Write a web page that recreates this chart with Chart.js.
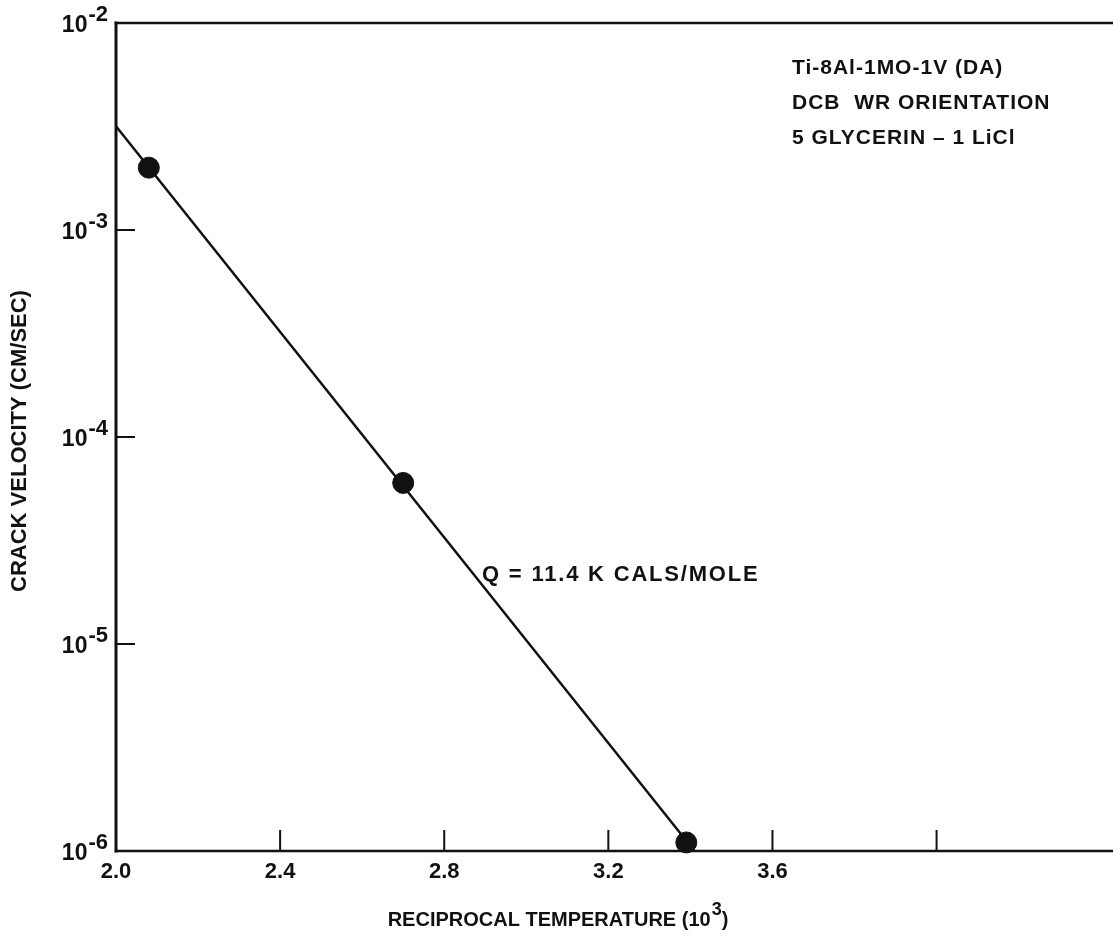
<!DOCTYPE html>
<html>
<head>
  <meta charset="UTF-8">
  <title>Crack velocity vs reciprocal temperature</title>
  <script src="https://cdn.jsdelivr.net/npm/chart.js"></script>
  <style>
    body { margin: 0; background: #fff; overflow: hidden; }
    #wrap { width: 1113px; height: 941px; }
  </style>
</head>
<body>
  <div id="wrap"><canvas id="chart" width="1113" height="941"></canvas></div>

  <script>
    // tick values / labels
    const xTicks = [2.0, 2.4, 2.8, 3.2, 3.6, 4.0];
    const xTickLabels = ["2.0", "2.4", "2.8", "3.2", "3.6", ""];
    const yTicks = [1e-2, 1e-3, 1e-4, 1e-5, 1e-6];
    const yTickExp = ["-2", "-3", "-4", "-5", "-6"];

    // measured points
    const tempX = [2.08, 2.70, 3.39];
    const velocity = [2.0e-3, 6.0e-5, 1.1e-6];

    // fitted line ends
    const fitX = [2.0, 3.41];
    const fitY = [3.17e-3, 1.0e-6];

    const notes = ["Ti-8Al-1MO-1V (DA)", "DCB  WR ORIENTATION", "5 GLYCERIN \u2013 1 LiCl"];
    const qLabel = "Q = 11.4 K CALS/MOLE";

    const FONT = "'Liberation Sans', Arial, sans-serif";
    const INK = "#111";

    function supText(ctx, base, sup, tail, x, y, size, supSize, raise, align) {
      ctx.font = "bold " + size + "px " + FONT;
      const wb = ctx.measureText(base).width;
      const wt = ctx.measureText(tail).width;
      ctx.font = "bold " + supSize + "px " + FONT;
      const ws = ctx.measureText(sup).width;
      const total = wb + ws + 1 + wt;
      let x0 = x;
      if (align === "right") x0 = x - total;
      if (align === "center") x0 = x - total / 2;
      ctx.textAlign = "left";
      ctx.textBaseline = "middle";
      ctx.font = "bold " + size + "px " + FONT;
      ctx.fillText(base, x0, y);
      ctx.font = "bold " + supSize + "px " + FONT;
      ctx.fillText(sup, x0 + wb + 1, y - raise);
      ctx.font = "bold " + size + "px " + FONT;
      ctx.fillText(tail, x0 + wb + ws + 1, y);
    }

    const framePlugin = {
      id: "frame",
      beforeDatasetsDraw(chart) {
        const ctx = chart.ctx;
        const a = chart.chartArea;
        const xs = chart.scales.x;
        const ys = chart.scales.y;
        ctx.save();
        ctx.strokeStyle = INK;
        ctx.lineCap = "square";
        // left axis
        ctx.lineWidth = 3;
        ctx.beginPath();
        ctx.moveTo(a.left, a.top);
        ctx.lineTo(a.left, a.bottom);
        ctx.stroke();
        // top and bottom lines
        ctx.lineWidth = 2.5;
        ctx.beginPath();
        ctx.moveTo(a.left, a.top);
        ctx.lineTo(a.right, a.top);
        ctx.moveTo(a.left, a.bottom);
        ctx.lineTo(a.right, a.bottom);
        ctx.stroke();
        // inward ticks
        ctx.lineWidth = 2;
        ctx.beginPath();
        yTicks.slice(1, -1).forEach(v => {
          const py = ys.getPixelForValue(v);
          ctx.moveTo(a.left, py);
          ctx.lineTo(a.left + 18, py);
        });
        xTicks.slice(1).forEach(v => {
          const px = xs.getPixelForValue(v);
          ctx.moveTo(px, a.bottom);
          ctx.lineTo(px, a.bottom - 20);
        });
        ctx.stroke();
        ctx.restore();
      },
      afterDraw(chart) {
        const ctx = chart.ctx;
        const a = chart.chartArea;
        const xs = chart.scales.x;
        const ys = chart.scales.y;
        ctx.save();
        ctx.fillStyle = INK;
        // y tick labels
        yTicks.forEach((v, i) => {
          const py = ys.getPixelForValue(v);
          supText(ctx, "10", yTickExp[i], "", a.left - 8, py + 3, 23, 22, 11, "right");
        });
        // x tick labels
        ctx.font = "bold 22px " + FONT;
        ctx.textAlign = "center";
        ctx.textBaseline = "middle";
        xTicks.forEach((v, i) => {
          ctx.fillText(xTickLabels[i], xs.getPixelForValue(v), a.bottom + 21);
        });
        // axis titles
        supText(ctx, "RECIPROCAL TEMPERATURE (10", "3", ")", 558, 920, 20, 18, 10, "center");
        ctx.save();
        ctx.translate(20, 441);
        ctx.rotate(-Math.PI / 2);
        ctx.font = "bold 22px " + FONT;
        ctx.textAlign = "center";
        ctx.textBaseline = "middle";
        ctx.fillText("CRACK VELOCITY (CM/SEC)", 0, 0);
        ctx.restore();
        // annotations
        ctx.textAlign = "left";
        ctx.textBaseline = "middle";
        ctx.font = "bold 21px " + FONT;
        ctx.letterSpacing = "1px";
        notes.forEach((t, i) => ctx.fillText(t, 792, 68 + i * 35));
        ctx.font = "bold 22px " + FONT;
        ctx.letterSpacing = "1.8px";
        ctx.fillText(qLabel, 482, 575);
        ctx.letterSpacing = "0px";
        ctx.restore();
      }
    };

    new Chart(document.getElementById("chart"), {
      type: "scatter",
      data: {
        datasets: [
          {
            label: "fit",
            data: fitX.map((x, i) => ({ x: x, y: fitY[i] })),
            showLine: true,
            borderColor: INK,
            borderWidth: 2.5,
            pointRadius: 0,
            clip: false
          },
          {
            label: "data",
            data: tempX.map((x, i) => ({ x: x, y: velocity[i] })),
            backgroundColor: INK,
            borderColor: INK,
            pointRadius: 10.5,
            clip: false
          }
        ]
      },
      options: {
        responsive: false,
        animation: false,
        layout: { autoPadding: false, padding: { left: 116, top: 23, right: 0, bottom: 90 } },
        scales: {
          x: { type: "linear", display: false, min: 2.0, max: 4.43 },
          y: { type: "logarithmic", display: false, min: 1e-6, max: 1e-2 }
        },
        plugins: {
          legend: { display: false },
          tooltip: { enabled: false }
        }
      },
      plugins: [framePlugin]
    });
  </script>
</body>
</html>
